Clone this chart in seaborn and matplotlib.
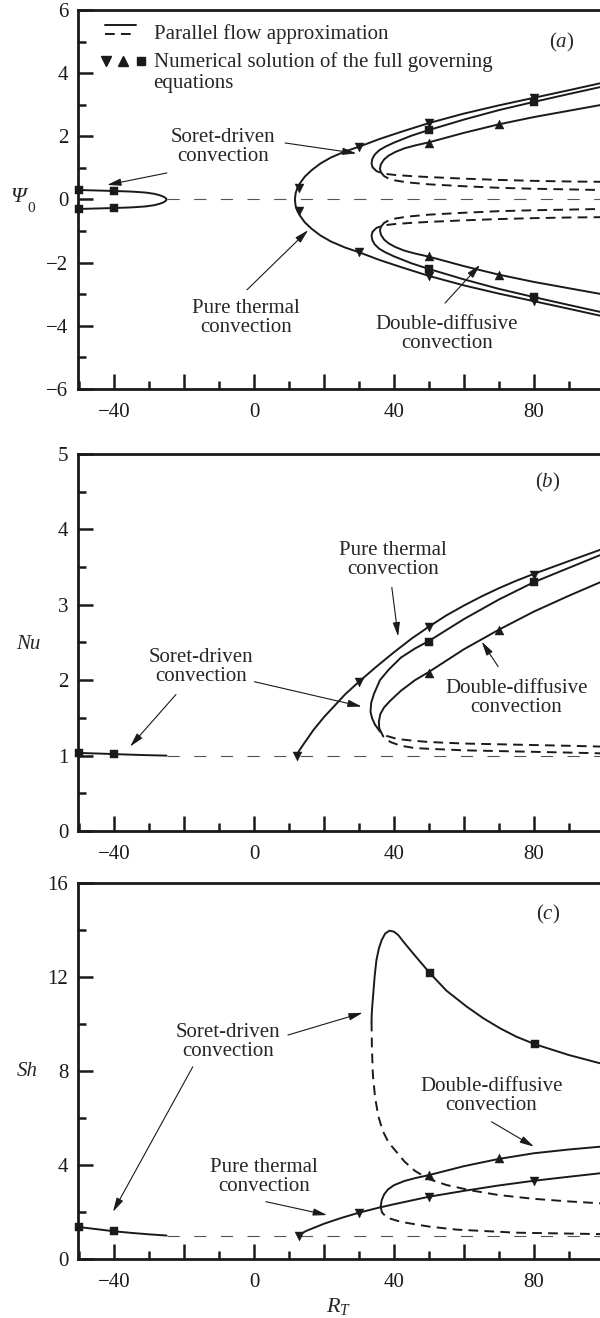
import numpy as np
import matplotlib
matplotlib.use("Agg")
import matplotlib.pyplot as plt
from matplotlib.lines import Line2D
from matplotlib.legend_handler import HandlerBase
from matplotlib.ticker import MultipleLocator, FixedLocator, FixedFormatter
import seaborn as sns

# ---------------- data ----------------
# (a) stream-function amplitude Psi_0 (upper branches; lower ones are the Psi -> -Psi images)
soret_left_R = [-50, -45, -40, -35, -31, -28.5, -26.8, -25.7, -25.1, -25]
soret_left_psi = [0.30, 0.285, 0.27, 0.25, 0.22, 0.18, 0.13, 0.08, 0.03, 0.0]

thermal_R_a = [11.7, 11.9, 12.4, 13.2, 14.5, 16.5, 19, 22, 26, 30, 36, 42, 50, 60, 70, 80, 90, 99]
thermal_psi = [0.0, 0.20, 0.36, 0.52, 0.72, 0.93, 1.14, 1.33, 1.52, 1.67, 1.92, 2.14, 2.42, 2.72, 2.98, 3.22, 3.46, 3.68]

soret_R_a = [33.9, 33.6, 33.8, 34.5, 35.8, 37.5, 40, 45, 50, 60, 70, 80, 90, 99]
soret_psi = [1.02, 1.14, 1.28, 1.42, 1.56, 1.67, 1.80, 2.02, 2.20, 2.53, 2.83, 3.09, 3.34, 3.56]
soret_R_a_unst = [33.9, 35, 37, 40, 45, 50, 60, 70, 80, 90, 99]
soret_psi_unst = [1.02, 0.90, 0.82, 0.78, 0.74, 0.71, 0.66, 0.62, 0.59, 0.57, 0.56]

dd_R_a = [36.3, 36.0, 36.3, 37.2, 38.5, 40.5, 43, 46, 50, 60, 70, 80, 90, 99]
dd_psi = [0.86, 0.98, 1.12, 1.27, 1.39, 1.51, 1.62, 1.71, 1.81, 2.11, 2.38, 2.61, 2.81, 2.99]
dd_R_a_unst = [36.3, 37.2, 38.5, 40.5, 44, 50, 60, 70, 80, 90, 99]
dd_psi_unst = [0.86, 0.74, 0.66, 0.60, 0.54, 0.48, 0.42, 0.37, 0.34, 0.32, 0.30]

num_thermal_R_a = [12.9, 30, 50, 80]
num_thermal_psi = [0.35, 1.66, 2.43, 3.22]
num_soret_R_a = [-50, -40, 50, 80]
num_soret_psi = [0.30, 0.27, 2.20, 3.09]
num_dd_R_a = [50, 70]
num_dd_psi = [1.80, 2.38]

# (b) Nusselt number
left_R = [-50, -45, -40, -35, -30, -25]
soret_left_nu = [1.035, 1.028, 1.02, 1.012, 1.005, 1.0]

thermal_R_b = [12, 14, 17, 20, 23, 26, 30, 35, 40, 45, 50, 55, 60, 65, 70, 75, 80, 90, 99]
thermal_nu = [1.0, 1.14, 1.34, 1.51, 1.66, 1.81, 1.98, 2.18, 2.37, 2.55, 2.71, 2.86, 2.99, 3.11, 3.22, 3.32, 3.41, 3.58, 3.73]

soret_R_b = [34.6, 33.8, 33.3, 33.5, 34.3, 36, 38.5, 42, 46, 50, 60, 70, 80, 90, 99]
soret_nu = [1.41, 1.49, 1.58, 1.70, 1.82, 2.0, 2.14, 2.30, 2.42, 2.52, 2.81, 3.07, 3.30, 3.49, 3.66]
soret_R_b_unst = [34.6, 36, 38, 41, 45, 50, 60, 70, 80, 90, 99]
soret_nu_unst = [1.41, 1.32, 1.26, 1.22, 1.20, 1.18, 1.16, 1.15, 1.14, 1.13, 1.12]

dd_R_b = [35.8, 35.7, 36.1, 37.2, 39, 42, 46, 50, 60, 70, 80, 90, 99]
dd_nu = [1.36, 1.45, 1.55, 1.64, 1.73, 1.86, 2.0, 2.11, 2.41, 2.67, 2.91, 3.12, 3.30]
dd_R_b_unst = [35.8, 37, 39, 42, 46, 50, 60, 70, 80, 90, 99]
dd_nu_unst = [1.36, 1.25, 1.18, 1.13, 1.10, 1.09, 1.07, 1.06, 1.05, 1.04, 1.03]

num_thermal_R_b = [12.3, 30, 50, 80]
num_thermal_nu = [1.0, 1.98, 2.71, 3.40]
num_soret_R_b = [-50, -40, 50, 80]
num_soret_nu = [1.03, 1.02, 2.51, 3.30]
num_dd_R_b = [50, 70]
num_dd_nu = [2.10, 2.67]

# (c) Sherwood number
soret_left_sh = [1.36, 1.27, 1.18, 1.11, 1.05, 1.0]

thermal_R_c = [12.5, 15, 20, 25, 30, 35, 40, 50, 60, 70, 80, 90, 99]
thermal_sh = [1.0, 1.2, 1.5, 1.75, 1.97, 2.16, 2.33, 2.65, 2.9, 3.13, 3.33, 3.5, 3.65]

dd_R_c = [36.2, 36.5, 37.2, 38.3, 40, 43, 46, 50, 60, 70, 80, 90, 99]
dd_sh = [2.22, 2.5, 2.75, 2.96, 3.14, 3.32, 3.44, 3.57, 3.95, 4.26, 4.50, 4.66, 4.78]
dd_R_c_unst = [36.2, 36.6, 38, 42, 50, 58, 75, 99]
dd_sh_unst = [2.22, 1.98, 1.76, 1.58, 1.38, 1.25, 1.12, 1.06]

soret_R_c = [33.6, 33.65, 33.8, 34.1, 34.5, 35.0, 35.7, 36.5, 37.5, 38.7, 40, 41.2, 43,
             45.5, 50.3, 55, 60.8, 65.5, 70.3, 75, 80.3, 90, 98.9]
soret_sh = [10.1, 10.4, 10.75, 11.3, 12.05, 12.72, 13.22, 13.57, 13.85, 13.97, 13.93, 13.79, 13.45,
            13.0, 12.16, 11.42, 10.74, 10.25, 9.82, 9.46, 9.14, 8.68, 8.33]
soret_R_c_unst = [33.6, 33.7, 34.0, 34.6, 35.5, 36.8, 38.5, 40.5, 43, 46, 50, 55, 62, 70, 80, 90, 99]
soret_sh_unst = [10.1, 9.0, 7.8, 6.9, 6.1, 5.45, 4.95, 4.6, 4.15, 3.75, 3.4, 3.15, 2.92, 2.72, 2.56, 2.45, 2.37]

num_thermal_R_c = [12.8, 30, 50, 80]
num_thermal_sh = [1.0, 1.97, 2.65, 3.33]
num_soret_R_c = [-50, -40, 50.3, 80.3]
num_soret_sh = [1.35, 1.18, 12.16, 9.14]
num_dd_R_c = [50, 70]
num_dd_sh = [3.57, 4.28]

conduction_R = [-25, 99]

x_major = [-40, -20, 0, 20, 40, 60, 80]
x_labels = ["\u221240", "", "0", "", "40", "", "80"]

# ---------------- style ----------------
sns.set_theme(style="ticks")
plt.rcParams["font.family"] = ["Liberation Serif", "DejaVu Serif"]
plt.rcParams["mathtext.fontset"] = "custom"
plt.rcParams["mathtext.rm"] = "Liberation Serif"
plt.rcParams["mathtext.it"] = "Liberation Serif:italic"
plt.rcParams["axes.unicode_minus"] = True

FS = 15
LW = 1.4
UNST = (0, (5, 3.2))
COND = (0, (11, 13))
GREY = "#555555"

fig = plt.figure(figsize=(6, 13.18), dpi=100)
ax_a = fig.add_axes([0.13, 0.70486, 0.87, 0.28756])
ax_b = fig.add_axes([0.13, 0.36950, 0.87, 0.28604])
ax_c = fig.add_axes([0.13, 0.04476, 0.87, 0.28528])


def curve(ax, x, y, ls="-", color="k", lw=LW):
    sns.lineplot(x=x, y=y, sort=False, estimator=None, color=color,
                 linewidth=lw, linestyle=ls, ax=ax, legend=False)


def points(ax, x, y, marker, size):
    sns.scatterplot(x=x, y=y, marker=marker, s=size, color="k",
                    edgecolor="k", linewidth=0.3, ax=ax, legend=False,
                    clip_on=False, zorder=5)


def style_axis(ax, ylim, ymajor, yminor, ylabels):
    ax.set_xlim(-50.3, 98.9)
    ax.set_ylim(*ylim)
    ax.xaxis.set_major_locator(FixedLocator(x_major))
    ax.xaxis.set_major_formatter(FixedFormatter(x_labels))
    ax.xaxis.set_minor_locator(MultipleLocator(10))
    ax.yaxis.set_major_locator(FixedLocator(ymajor))
    ax.yaxis.set_major_formatter(FixedFormatter(ylabels))
    ax.yaxis.set_minor_locator(MultipleLocator(yminor))
    ax.tick_params(which="both", direction="in", width=1.8, colors="k",
                   labelsize=FS, top=False, right=False)
    ax.tick_params(which="major", length=11)
    ax.tick_params(which="minor", length=6)
    ax.tick_params(axis="y", pad=7)
    ax.tick_params(axis="x", pad=10)
    for s in ("left", "bottom", "top"):
        ax.spines[s].set_linewidth(2.0)
        ax.spines[s].set_color("k")
    ax.spines["right"].set_visible(False)
    ax.set_xlabel("")
    ax.set_ylabel("")


def arrow(ax, tail, head):
    ax.annotate("", xy=head, xytext=tail,
                arrowprops=dict(arrowstyle="-|>,head_length=0.7,head_width=0.18",
                                lw=0.8, color="k", shrinkA=0, shrinkB=0))


def label(ax, x, y, s):
    ax.text(x, y, s, ha="center", va="center", fontsize=FS, linespacing=1.0)


# ---------------- (a) Psi_0 ----------------
ax = ax_a
curve(ax, conduction_R, [0, 0], ls=COND, color=GREY, lw=0.8)
curve(ax, soret_left_R + soret_left_R[::-1][1:],
      soret_left_psi + [-v for v in soret_left_psi[::-1]][1:])
curve(ax, thermal_R_a[::-1] + thermal_R_a[1:],
      [-v for v in thermal_psi[::-1]] + thermal_psi[1:])
for sign in (1, -1):
    curve(ax, soret_R_a, [sign * v for v in soret_psi])
    curve(ax, soret_R_a_unst, [sign * v for v in soret_psi_unst], ls=UNST)
    curve(ax, dd_R_a, [sign * v for v in dd_psi])
    curve(ax, dd_R_a_unst, [sign * v for v in dd_psi_unst], ls=UNST)
    points(ax, num_thermal_R_a, [sign * v for v in num_thermal_psi], "v", 42)
    points(ax, num_soret_R_a, [sign * v for v in num_soret_psi], "s", 32)
    points(ax, num_dd_R_a, [sign * v for v in num_dd_psi], "^", 42)
style_axis(ax, (-6, 6), [-6, -4, -2, 0, 2, 4, 6], 1,
           ["\u22126", "\u22124", "\u22122", "0", "2", "4", "6"])

label(ax, -8.9, 1.66, "Soret-driven\nconvection")
arrow(ax, (-24.9, 0.84), (-42.0, 0.46))
arrow(ax, (8.9, 1.79), (29.3, 1.46))
label(ax, -2.3, -3.75, "Pure thermal\nconvection")
arrow(ax, (-2.0, -2.86), (15.5, -0.97))
label(ax, 55.1, -4.26, "Double-diffusive\nconvection")
arrow(ax, (54.6, -3.28), (64.6, -2.07))
ax.text(88, 4.98, r"$(\mathit{a})$", ha="center", va="center", fontsize=FS)
ax.text(-67.3, 0.05, "\u03a8", style="italic", ha="center", va="center",
        fontsize=FS + 1, clip_on=False)
ax.text(-63.6, -0.28, "0", ha="center", va="center", fontsize=11, clip_on=False)


# legend keys: solid/dashed pair and the three numerical-solution symbols
class PairHandler(HandlerBase):
    offsets = (4.2, -2.3)

    def create_artists(self, legend, orig_handle, xdescent, ydescent,
                       width, height, fontsize, trans):
        arts = []
        x0 = -xdescent + 0.07 * width
        x1 = -xdescent + 0.80 * width
        for h, off in zip(orig_handle, self.offsets):
            y = -ydescent + height / 2 + off
            ln = Line2D([x0, x1], [y, y])
            ln.update_from(h)
            ln.set_transform(trans)
            arts.append(ln)
        return arts


class SymbolsHandler(HandlerBase):
    def create_artists(self, legend, orig_handle, xdescent, ydescent,
                       width, height, fontsize, trans):
        arts = []
        n = len(orig_handle)
        y = -ydescent + height / 2 + 0.55 * fontsize
        for i, h in enumerate(orig_handle):
            x = -xdescent + width * (0.1 + 0.8 * i / (n - 1))
            m = Line2D([x], [y])
            m.update_from(h)
            m.set_linestyle("none")
            m.set_transform(trans)
            arts.append(m)
        return arts


class Pair(tuple):
    pass


class Symbols(tuple):
    pass


h_solid = Line2D([], [], color="k", lw=LW)
h_dash = Line2D([], [], color="k", lw=LW, linestyle=UNST)
h_sym = [Line2D([], [], color="k", marker=mk, markersize=ms, linestyle="none")
         for mk, ms in (("v", 7), ("^", 7), ("s", 6))]
leg = ax.legend([Pair((h_solid, h_dash)), Symbols(h_sym)],
                ["Parallel flow approximation",
                 "Numerical solution of the full governing\nequations"],
                handler_map={Pair: PairHandler(), Symbols: SymbolsHandler()},
                loc="upper left", bbox_to_anchor=(0.045, 0.964),
                frameon=False, fontsize=FS, handlelength=2.1,
                handletextpad=0.4, borderpad=0, borderaxespad=0,
                labelspacing=0.40)
for t in leg.get_texts():
    t.set_linespacing(1.15)

# ---------------- (b) Nu ----------------
ax = ax_b
curve(ax, conduction_R, [1, 1], ls=COND, color=GREY, lw=0.8)
curve(ax, left_R, soret_left_nu)
curve(ax, thermal_R_b, thermal_nu)
curve(ax, soret_R_b, soret_nu)
curve(ax, soret_R_b_unst, soret_nu_unst, ls=UNST)
curve(ax, dd_R_b, dd_nu)
curve(ax, dd_R_b_unst, dd_nu_unst, ls=UNST)
points(ax, num_thermal_R_b, num_thermal_nu, "v", 42)
points(ax, num_soret_R_b, num_soret_nu, "s", 32)
points(ax, num_dd_R_b, num_dd_nu, "^", 42)
style_axis(ax, (0, 5), [0, 1, 2, 3, 4, 5], 0.5, ["0", "1", "2", "3", "4", "5"])

ax.text(84, 4.62, r"$(\mathit{b})$", ha="center", va="center", fontsize=FS)
label(ax, 39.7, 3.60, "Pure thermal\nconvection")
arrow(ax, (39.4, 3.23), (41.2, 2.58))
label(ax, -15.1, 2.18, "Soret-driven\nconvection")
arrow(ax, (-22.3, 1.81), (-35.4, 1.12))
arrow(ax, (0.1, 1.98), (30.8, 1.65))
label(ax, 75.0, 1.76, "Double-diffusive\nconvection")
arrow(ax, (69.8, 2.18), (65.1, 2.51))
ax.text(-64.4, 2.47, "Nu", style="italic", ha="center", va="center",
        fontsize=FS, clip_on=False)

# ---------------- (c) Sh ----------------
ax = ax_c
curve(ax, conduction_R, [1, 1], ls=COND, color=GREY, lw=0.8)
curve(ax, left_R, soret_left_sh)
curve(ax, thermal_R_c, thermal_sh)
curve(ax, dd_R_c, dd_sh)
curve(ax, dd_R_c_unst, dd_sh_unst, ls=UNST)
curve(ax, soret_R_c, soret_sh)
curve(ax, soret_R_c_unst, soret_sh_unst, ls=UNST)
points(ax, num_thermal_R_c, num_thermal_sh, "v", 42)
points(ax, num_soret_R_c, num_soret_sh, "s", 32)
points(ax, num_dd_R_c, num_dd_sh, "^", 42)
style_axis(ax, (0, 16), [0, 4, 8, 12, 16], 2, ["0", "4", "8", "12", "16"])

ax.text(84, 14.64, r"$(\mathit{c})$", ha="center", va="center", fontsize=FS)
label(ax, -7.4, 9.25, "Soret-driven\nconvection")
arrow(ax, (9.7, 9.53), (31.1, 10.48))
arrow(ax, (-17.5, 8.18), (-40.3, 2.01))
label(ax, 67.9, 6.94, "Double-diffusive\nconvection")
arrow(ax, (67.9, 5.84), (80.0, 4.78))
label(ax, 2.9, 3.48, "Pure thermal\nconvection")
arrow(ax, (3.4, 2.44), (20.9, 1.87))
ax.text(-64.9, 7.97, "Sh", style="italic", ha="center", va="center",
        fontsize=FS, clip_on=False)
ax.set_xlabel(r"$R_T$", fontsize=FS + 1, labelpad=3)

fig.savefig("out.png", dpi=100)
